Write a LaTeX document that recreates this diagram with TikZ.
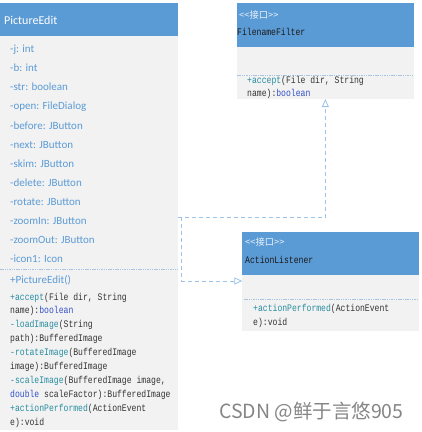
\documentclass[tikz,border=0pt]{standalone}
\usepackage{fontspec}
\setmainfont{Carlito}
\newfontfamily\mono[FakeStretch=0.81]{Liberation Mono}
\newfontfamily\cjk{Noto Sans CJK SC}
\usetikzlibrary{arrows.meta}
\definecolor{hdr}{HTML}{5B9BD5}
\definecolor{bodyc}{HTML}{F2F2F2}
\definecolor{attr}{HTML}{5B9BD5}
\definecolor{sepc}{HTML}{A9C4DE}
\definecolor{depc}{HTML}{9DC3E6}
\definecolor{teal}{RGB}{40,140,160}
\definecolor{kw}{RGB}{50,80,200}
\definecolor{txt}{HTML}{333333}
\definecolor{wm}{HTML}{858585}
\tikzset{
  hdrbox/.style={fill=hdr, draw=none, inner sep=0pt, outer sep=0pt, anchor=north west},
  bodybox/.style={fill=bodyc, draw=none, inner sep=0pt, outer sep=0pt, anchor=north west},
  sepline/.style={draw=sepc, line width=0.6pt, dash pattern=on 1.5pt off 0.8pt},
  titletxt/.style={anchor=base west, inner sep=0pt, text=white, font=\fontsize{12}{14}\selectfont},
  attrtxt/.style={anchor=base west, inner sep=0pt, text=attr, font=\fontsize{11}{13}\selectfont},
  monotxt/.style={anchor=base west, inner sep=0pt, text=txt, font=\mono\fontsize{10}{12}\selectfont},
  stereotxt/.style={anchor=base west, inner sep=0pt, text=white!88!hdr, font=\cjk\fontsize{9.3}{11}\selectfont},
  dep/.style={draw=depc, line width=0.8pt, dash pattern=on 4pt off 3pt, -{Triangle[open,length=8pt,width=7pt]}}
}
\begin{document}
\begin{tikzpicture}[x=1pt,y=-1pt]
\useasboundingbox[fill=white] (0,0) rectangle (422,432);
% PictureEdit
\node[hdrbox, minimum width=177.5pt, minimum height=32.7pt] (peh) at (0,3.3) {};
\node[bodybox, minimum width=177.5pt, minimum height=394pt] (peb) at (0,36) {};
\node[titletxt] (pet) at (4,24.2) {PictureEdit};
\foreach \t [count=\i] in {-j: int,-b: int,-str: boolean,-open: FileDialog,-before: JButton,-next: JButton,-skim: JButton,-delete: JButton,-rotate: JButton,-zoomIn: JButton,-zoomOut: JButton,-icon1: Icon}
  \node[attrtxt] (a\i) at (10,{52.6+19.1*(\i-1)}) {\t};
\draw[sepline] (peb.west |- 0,269) -- (peb.east |- 0,269);
\node[attrtxt] (m0) at (10,283.6) {+PictureEdit()};
\node[monotxt] (m1) at (10,300.0) {\textcolor{teal}{+accept}(File dir, String};
\node[monotxt] (m2) at (10,313.9) {name):\textcolor{kw}{boolean}};
\node[monotxt] (m3) at (10,327.8) {\textcolor{teal}{-loadImage}(String};
\node[monotxt] (m4) at (10,341.7) {path):BufferedImage};
\node[monotxt] (m5) at (10,355.6) {\textcolor{teal}{-rotateImage}(BufferedImage};
\node[monotxt] (m6) at (10,369.5) {image):BufferedImage};
\node[monotxt] (m7) at (10,383.4) {\textcolor{teal}{-scaleImage}(BufferedImage image,};
\node[monotxt] (m8) at (10,397.3) {\textcolor{kw}{double} scaleFactor):BufferedImage};
\node[monotxt] (m9) at (10,411.2) {\textcolor{teal}{+actionPerformed}(ActionEvent};
\node[monotxt] (m10) at (10,425.1) {e):void};
% FilenameFilter
\node[hdrbox, minimum width=177.3pt, minimum height=43.7pt] (ffh) at (236.7,3.3) {};
\node[bodybox, minimum width=177.3pt, minimum height=52pt] (ffb) at (236.7,47) {};
\node[stereotxt] (ffs) at (239,18) {<<接口>>};
\node[monotxt, text=black!90] (ffn) at (237,35.4) {FilenameFilter};
\draw[sepline] (237,75) -- (412,75);
\node[monotxt] (ffm1) at (247,83.4) {\textcolor{teal}{+accept}(File dir, String};
\node[monotxt] (ffm2) at (247,96.1) {name):\textcolor{kw}{boolean}};
% ActionListener
\node[hdrbox, minimum width=176.7pt, minimum height=43.3pt] (alh) at (242.3,231.7) {};
\node[bodybox, minimum width=176.7pt, minimum height=56pt] (alb) at (242.3,275) {};
\node[stereotxt] (als) at (245,245.3) {<<接口>>};
\node[monotxt, text=black!90] (aln) at (245,263.4) {ActionListener};
\draw[sepline] (244,299) -- (417,299);
\node[monotxt] (alm1) at (253,311.4) {\textcolor{teal}{+actionPerformed}(ActionEvent};
\node[monotxt] (alm2) at (253,325.4) {e):void};
% connectors
\coordinate (s1) at (177.5,217);
\coordinate (s2) at (181.7,217);
\coordinate (t2) at (242.3,281);
\draw[dep] (s1) -| (ffb.south);
\draw[dep] (s2) |- (t2);
% watermark
\node[anchor=west, inner sep=0pt, text=wm, font=\cjk\fontsize{19.5}{21}\selectfont] (wmk) at (219,412) {CSDN @鲜于言悠905};
\end{tikzpicture}
\end{document}
